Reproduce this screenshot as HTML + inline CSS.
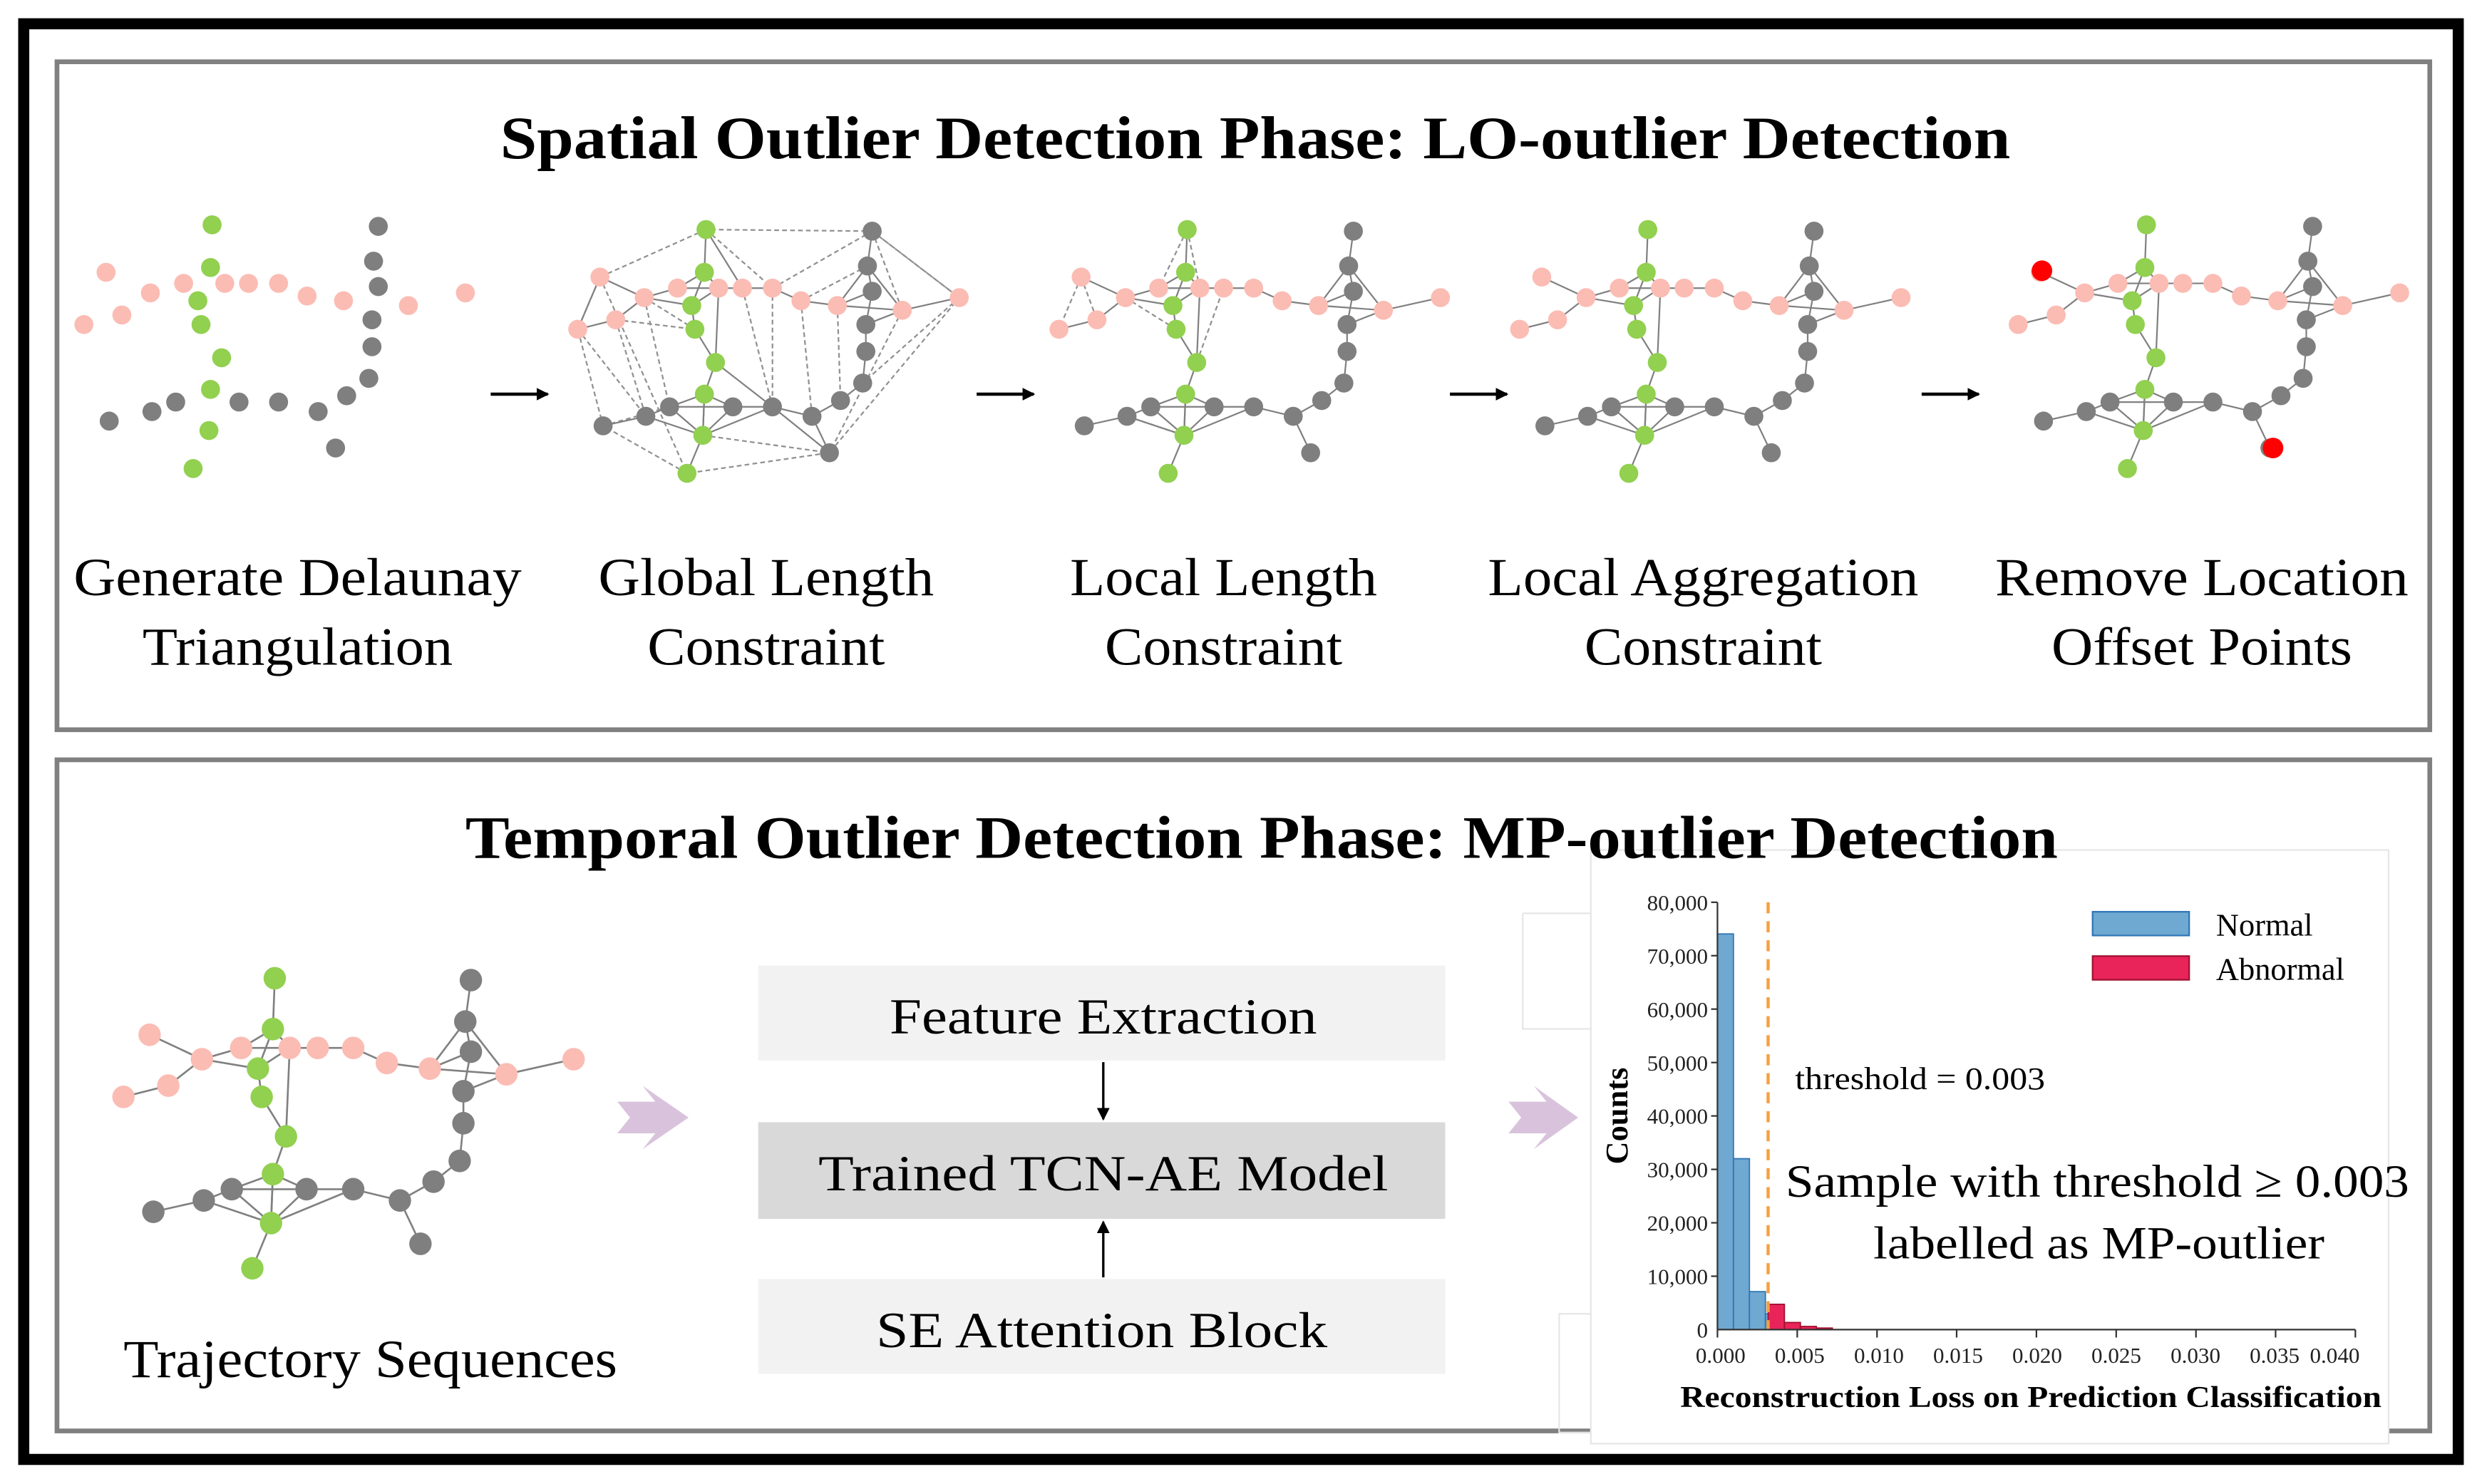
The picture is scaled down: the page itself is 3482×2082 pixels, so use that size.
<!DOCTYPE html>
<html><head><meta charset="utf-8"><style>
html,body{margin:0;padding:0;background:#fff;}
svg{display:block;}
</style></head><body>
<svg width="3482" height="2082" viewBox="0 0 1568 937.5" xmlns="http://www.w3.org/2000/svg" xmlns:xlink="http://www.w3.org/1999/xlink" font-family="Liberation Serif, serif">
<defs>
<g id="edges" stroke="#808080" stroke-width="1" fill="none">
<polyline points="750,145 749,172 741,193 743,208 756,229 749,249 748,275 738,299"/>
<polyline points="669,208 693,202 711,188 732,182 758,182 773,182 792,182 810,190 833,193 874,196 910,188"/>
<line x1="683" y1="175" x2="711" y2="188"/>
<polyline points="855,146 852,168 855,184 851,205 851,222 849,242 835,253 817,263 792,257 767,257 727,257 712,263 685,269"/>
<line x1="817" y1="263" x2="828" y2="286"/>
<line x1="749" y1="172" x2="732" y2="182"/><line x1="749" y1="172" x2="758" y2="182"/>
<line x1="741" y1="193" x2="758" y2="182"/><line x1="741" y1="193" x2="711" y2="188"/>
<line x1="758" y1="182" x2="756" y2="229"/>
<line x1="749" y1="249" x2="727" y2="257"/><line x1="749" y1="249" x2="767" y2="257"/>
<line x1="748" y1="275" x2="727" y2="257"/><line x1="748" y1="275" x2="712" y2="263"/><line x1="748" y1="275" x2="767" y2="257"/><line x1="748" y1="275" x2="792" y2="257"/>
<line x1="749" y1="249" x2="748" y2="275"/>
<line x1="855" y1="184" x2="833" y2="193"/><line x1="852" y1="168" x2="874" y2="196"/><line x1="851" y1="205" x2="874" y2="196"/><line x1="852" y1="168" x2="833" y2="193"/>
</g>
<g id="dash" stroke="#909090" stroke-width="1" fill="none" stroke-dasharray="3,2">
<line x1="750" y1="145" x2="732" y2="182"/><line x1="750" y1="145" x2="758" y2="182"/>
<line x1="683" y1="175" x2="669" y2="208"/><line x1="683" y1="175" x2="693" y2="202"/>
<line x1="756" y1="229" x2="773" y2="182"/><line x1="743" y1="208" x2="711" y2="188"/>
<line x1="712" y1="263" x2="748" y2="275"/>
</g>
<g id="nodes">
<g fill="#fbbcb4">
<circle cx="683" cy="175" r="6"/><circle cx="669" cy="208" r="6"/><circle cx="693" cy="202" r="6"/><circle cx="711" cy="188" r="6"/><circle cx="732" cy="182" r="6"/><circle cx="758" cy="182" r="6"/><circle cx="773" cy="182" r="6"/><circle cx="792" cy="182" r="6"/><circle cx="810" cy="190" r="6"/><circle cx="833" cy="193" r="6"/><circle cx="874" cy="196" r="6"/><circle cx="910" cy="188" r="6"/>
</g>
<g fill="#7f7f7f">
<circle cx="855" cy="146" r="6"/><circle cx="852" cy="168" r="6"/><circle cx="855" cy="184" r="6"/><circle cx="851" cy="205" r="6"/><circle cx="851" cy="222" r="6"/><circle cx="849" cy="242" r="6"/><circle cx="835" cy="253" r="6"/><circle cx="817" cy="263" r="6"/><circle cx="792" cy="257" r="6"/><circle cx="767" cy="257" r="6"/><circle cx="727" cy="257" r="6"/><circle cx="712" cy="263" r="6"/><circle cx="685" cy="269" r="6"/><circle cx="828" cy="286" r="6"/>
</g>
<g fill="#92d050">
<circle cx="750" cy="145" r="6"/><circle cx="749" cy="172" r="6"/><circle cx="741" cy="193" r="6"/><circle cx="743" cy="208" r="6"/><circle cx="756" cy="229" r="6"/><circle cx="749" cy="249" r="6"/><circle cx="748" cy="275" r="6"/><circle cx="738" cy="299" r="6"/>
</g>
</g>
<marker id="ah" markerWidth="8" markerHeight="8" refX="7" refY="4" orient="auto" markerUnits="userSpaceOnUse"><path d="M0,0 L8,4 L0,8 z" fill="#000"/></marker>
</defs>

<rect x="15" y="15" width="1538" height="907" fill="none" stroke="#000" stroke-width="7"/>
<rect x="36" y="39" width="1499" height="422" fill="none" stroke="#808080" stroke-width="3"/>
<rect x="36" y="480" width="1499" height="424" fill="none" stroke="#808080" stroke-width="3"/>

<text x="793" y="100" text-anchor="middle" font-weight="bold" font-size="38" textLength="954" lengthAdjust="spacingAndGlyphs">Spatial Outlier Detection Phase: LO-outlier Detection</text>

<use xlink:href="#nodes" x="-616" y="-3"/>
<g transform="translate(-304,0)">
<g stroke="#909090" stroke-width="1" fill="none" stroke-dasharray="3,2">
<polyline points="750,145 683,175 669,208 685,269 738,299 828,286 910,188 855,146 750,145"/>
<line x1="683" y1="175" x2="738" y2="299"/><line x1="693" y1="202" x2="712" y2="263"/><line x1="711" y1="188" x2="727" y2="257"/><line x1="669" y1="208" x2="712" y2="263"/>
<line x1="773" y1="182" x2="792" y2="257"/><line x1="792" y1="182" x2="792" y2="257"/><line x1="810" y1="190" x2="817" y2="263"/><line x1="792" y1="182" x2="855" y2="146"/>
<line x1="855" y1="146" x2="910" y2="188"/><line x1="874" y1="196" x2="828" y2="286"/><line x1="910" y1="188" x2="849" y2="242"/><line x1="748" y1="275" x2="828" y2="286"/>
<line x1="685" y1="269" x2="727" y2="257"/><line x1="810" y1="190" x2="852" y2="168"/><line x1="833" y1="193" x2="835" y2="253"/><line x1="750" y1="145" x2="792" y2="182"/>
<line x1="711" y1="188" x2="743" y2="208"/><line x1="693" y1="202" x2="743" y2="208"/><line x1="855" y1="146" x2="874" y2="196"/>
</g>
<use xlink:href="#edges"/>
<g stroke="#808080" stroke-width="1"><line x1="750" y1="145" x2="773" y2="182"/><line x1="756" y1="229" x2="792" y2="257"/><line x1="792" y1="257" x2="828" y2="286"/><line x1="683" y1="175" x2="669" y2="208"/></g>
<use xlink:href="#nodes"/>
</g>
<use xlink:href="#dash"/><use xlink:href="#edges"/><use xlink:href="#nodes"/>
<g transform="translate(291,0)"><use xlink:href="#edges"/><use xlink:href="#nodes"/></g>
<g transform="translate(606,-3)"><use xlink:href="#edges"/><use xlink:href="#nodes"/></g>
<circle cx="1290" cy="171" r="6.5" fill="#ff0000"/><circle cx="1436" cy="283" r="6.5" fill="#ff0000"/>

<g stroke="#000" stroke-width="2" marker-end="url(#ah)">
<line x1="310" y1="249" x2="346" y2="249"/><line x1="617" y1="249" x2="653" y2="249"/><line x1="916" y1="249" x2="952" y2="249"/><line x1="1214" y1="249" x2="1250" y2="249"/>
</g>

<g font-size="34" text-anchor="middle">
<text x="188" y="376" textLength="283" lengthAdjust="spacingAndGlyphs">Generate Delaunay</text>
<text x="188" y="420" textLength="196" lengthAdjust="spacingAndGlyphs">Triangulation</text>
<text x="484" y="376" textLength="212" lengthAdjust="spacingAndGlyphs">Global Length</text>
<text x="484" y="420" textLength="150" lengthAdjust="spacingAndGlyphs">Constraint</text>
<text x="773" y="376" textLength="194" lengthAdjust="spacingAndGlyphs">Local Length</text>
<text x="773" y="420" textLength="150" lengthAdjust="spacingAndGlyphs">Constraint</text>
<text x="1076" y="376" textLength="272" lengthAdjust="spacingAndGlyphs">Local Aggregation</text>
<text x="1076" y="420" textLength="150" lengthAdjust="spacingAndGlyphs">Constraint</text>
<text x="1391" y="376" textLength="261" lengthAdjust="spacingAndGlyphs">Remove Location</text>
<text x="1391" y="420" textLength="190" lengthAdjust="spacingAndGlyphs">Offset Points</text>
</g>

<g transform="translate(78,618) scale(1.18,1.19) translate(-669,-145)"><use xlink:href="#edges"/><use xlink:href="#nodes"/></g>
<text x="234" y="870" text-anchor="middle" font-size="34" textLength="312" lengthAdjust="spacingAndGlyphs">Trajectory Sequences</text>

<path d="M390,696 L414,696 L406,686 L435,706 L406,726 L414,716 L390,716 L398,706 z" fill="#d9c3dc"/>
<path d="M953,696 L977,696 L969,686 L997,706 L969,726 L977,716 L953,716 L961,706 z" fill="#d9c3dc"/>

<rect x="479" y="610" width="434" height="60" fill="#f2f2f2"/>
<rect x="479" y="709" width="434" height="61" fill="#d9d9d9"/>
<rect x="479" y="808" width="434" height="60" fill="#f2f2f2"/>
<g font-size="32" text-anchor="middle">
<text x="697" y="653" textLength="270" lengthAdjust="spacingAndGlyphs">Feature Extraction</text>
<text x="697" y="752" textLength="360" lengthAdjust="spacingAndGlyphs">Trained TCN-AE Model</text>
<text x="696" y="851" textLength="285" lengthAdjust="spacingAndGlyphs">SE Attention Block</text>
</g>
<g stroke="#000" stroke-width="1.5" marker-end="url(#ah)">
<line x1="697" y1="671" x2="697" y2="707"/><line x1="697" y1="807" x2="697" y2="772"/>
</g>

<rect x="1005" y="537" width="504" height="375" fill="#fff" stroke="#e6e6e6" stroke-width="1"/>
<polyline points="962,577 1005,577" stroke="#e6e6e6" fill="none"/>
<polyline points="962,577 962,650 1005,650" stroke="#e6e6e6" fill="none"/>
<polyline points="1005,830 985,830 985,905 1005,905" stroke="#e6e6e6" fill="none"/>
<g fill="#6fa8d0" stroke="#2e75b6" stroke-width="0.8">
<rect x="1085" y="590" width="10.1" height="250"/>
<rect x="1095.1" y="732" width="10.1" height="108"/>
<rect x="1105.2" y="816" width="10.1" height="24"/>
<rect x="1115.3" y="830" width="2" height="10"/>
</g>
<g fill="#e8245a" stroke="#a0102e" stroke-width="0.8">
<rect x="1117" y="824" width="10.3" height="16"/>
<rect x="1127.3" y="835.5" width="10.1" height="4.5"/>
<rect x="1137.4" y="838" width="10.1" height="2"/>
<rect x="1147.5" y="839" width="10.1" height="1"/>
</g>
<line x1="1117" y1="570" x2="1117" y2="840" stroke="#f5a040" stroke-width="2" stroke-dasharray="7,5"/>
<g stroke="#333" stroke-width="1">
<line x1="1085" y1="570" x2="1085" y2="840"/>
<line x1="1085" y1="840" x2="1488" y2="840"/>
<line x1="1081" y1="570" x2="1085" y2="570"/><line x1="1081" y1="603.75" x2="1085" y2="603.75"/><line x1="1081" y1="637.5" x2="1085" y2="637.5"/><line x1="1081" y1="671.25" x2="1085" y2="671.25"/><line x1="1081" y1="705" x2="1085" y2="705"/><line x1="1081" y1="738.75" x2="1085" y2="738.75"/><line x1="1081" y1="772.5" x2="1085" y2="772.5"/><line x1="1081" y1="806.25" x2="1085" y2="806.25"/>
<line x1="1085" y1="840" x2="1085" y2="845"/><line x1="1135.4" y1="840" x2="1135.4" y2="845"/><line x1="1185.8" y1="840" x2="1185.8" y2="845"/><line x1="1236.1" y1="840" x2="1236.1" y2="845"/><line x1="1286.5" y1="840" x2="1286.5" y2="845"/><line x1="1336.9" y1="840" x2="1336.9" y2="845"/><line x1="1387.3" y1="840" x2="1387.3" y2="845"/><line x1="1437.6" y1="840" x2="1437.6" y2="845"/><line x1="1488" y1="840" x2="1488" y2="845"/>
</g>
<g font-size="14" text-anchor="end" fill="#222">
<text x="1079" y="575">80,000</text><text x="1079" y="608.75">70,000</text><text x="1079" y="642.5">60,000</text><text x="1079" y="676.25">50,000</text><text x="1079" y="710">40,000</text><text x="1079" y="743.75">30,000</text><text x="1079" y="777.5">20,000</text><text x="1079" y="811.25">10,000</text><text x="1079" y="845">0</text>
</g>
<g font-size="14" text-anchor="middle" fill="#222">
<text x="1087" y="861">0.000</text><text x="1137" y="861">0.005</text><text x="1187" y="861">0.010</text><text x="1237" y="861">0.015</text><text x="1287" y="861">0.020</text><text x="1337" y="861">0.025</text><text x="1387" y="861">0.030</text><text x="1437" y="861">0.035</text><text x="1475" y="861">0.040</text>
</g>
<text transform="translate(1028,705) rotate(-90)" text-anchor="middle" font-size="20" font-weight="bold">Counts</text>
<text x="1283" y="889" text-anchor="middle" font-size="19" font-weight="bold" textLength="443" lengthAdjust="spacingAndGlyphs">Reconstruction Loss on Prediction Classification</text>
<rect x="1322" y="576" width="61" height="15" fill="#6fa8d0" stroke="#2e75b6"/>
<rect x="1322" y="604" width="61" height="15" fill="#e8245a" stroke="#a0102e"/>
<text x="1400" y="591" font-size="20">Normal</text>
<text x="1400" y="619" font-size="20">Abnormal</text>
<text x="1134" y="688" font-size="20" textLength="158" lengthAdjust="spacingAndGlyphs">threshold = 0.003</text>
<text x="1325" y="756" text-anchor="middle" font-size="29" textLength="394" lengthAdjust="spacingAndGlyphs">Sample with threshold ≥ 0.003</text>
<text x="1326" y="795" text-anchor="middle" font-size="29" textLength="285" lengthAdjust="spacingAndGlyphs">labelled as MP-outlier</text>

<text x="797" y="542" text-anchor="middle" font-weight="bold" font-size="38" textLength="1006" lengthAdjust="spacingAndGlyphs">Temporal Outlier Detection Phase: MP-outlier Detection</text>
</svg>
</body></html>
